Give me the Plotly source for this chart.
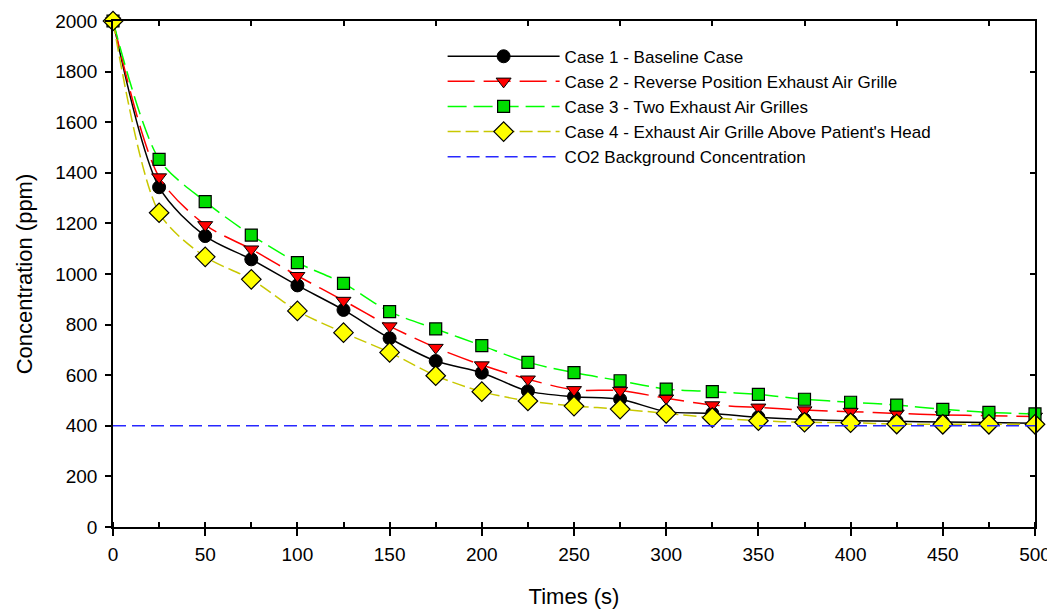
import plotly.graph_objects as go

times = [0, 25, 50, 75, 100, 125, 150, 175, 200, 225, 250, 275, 300, 325, 350, 375, 400, 425, 450, 475, 500]

case1 = [2000, 1343, 1150, 1058, 955, 858, 746, 656, 610, 537, 515, 505, 456, 449, 434, 425, 420, 418, 415, 413, 410]
case2 = [2000, 1383, 1194, 1098, 993, 895, 794, 709, 640, 584, 542, 539, 509, 482, 473, 462, 456, 449, 443, 440, 437]
case3 = [2000, 1453, 1286, 1154, 1045, 963, 851, 783, 717, 651, 610, 578, 545, 535, 524, 505, 493, 482, 465, 453, 447]
case4 = [2000, 1242, 1068, 979, 854, 768, 690, 598, 535, 498, 478, 466, 449, 432, 420, 414, 412, 407, 406, 406, 406]
background = [400] * len(times)

names = [
    "Case 1 - Baseline Case",
    "Case 2 - Reverse Position Exhaust Air Grille",
    "Case 3 - Two Exhaust Air Grilles",
    "Case 4 - Exhaust Air Grille Above Patient's Head",
    "CO2 Background Concentration",
]

FONT = "Liberation Sans, Arial, sans-serif"

fig = go.Figure()

fig.add_trace(go.Scatter(
    x=times, y=case1, name=names[0], mode="lines+markers",
    line=dict(color="black", width=1.5, shape="spline", smoothing=0.8),
    marker=dict(symbol="circle", size=13, color="black", line=dict(color="black", width=1)),
    cliponaxis=False))
fig.add_trace(go.Scatter(
    x=times, y=case2, name=names[1], mode="lines+markers",
    line=dict(color="#ff0000", width=1.5, shape="spline", smoothing=0.8, dash="27px,9px"),
    marker=dict(symbol="triangle-down", size=13, color="#ff0000", line=dict(color="black", width=1)),
    cliponaxis=False))
fig.add_trace(go.Scatter(
    x=times, y=case3, name=names[2], mode="lines+markers",
    line=dict(color="#00ff00", width=1.5, shape="spline", smoothing=0.8, dash="19px,7px"),
    marker=dict(symbol="square", size=12, color="#00dd00", line=dict(color="black", width=1.2)),
    cliponaxis=False))
fig.add_trace(go.Scatter(
    x=times, y=case4, name=names[3], mode="lines+markers",
    line=dict(color="#c8c800", width=1.5, shape="spline", smoothing=0.8, dash="13px,5px"),
    marker=dict(symbol="diamond", size=15, color="#ffff00", line=dict(color="black", width=1.2)),
    cliponaxis=False))
fig.add_trace(go.Scatter(
    x=times, y=background, name=names[4], mode="lines",
    line=dict(color="#2828ff", width=1.5, dash="13px,6px"),
    xaxis="x2", yaxis="y2", cliponaxis=False))

tickfont = dict(family=FONT, size=19, color="black")
titlefont = dict(family=FONT, size=22, color="black")

# page body has an 8px margin, so the figure is sized/margined to compensate
fig.update_layout(
    width=1047, height=602,
    margin=dict(l=105, r=20, t=13, b=83, autoexpand=False),
    paper_bgcolor="white", plot_bgcolor="white",
    font=dict(family=FONT, size=17, color="black"),
    showlegend=True,
    legend=dict(
        x=0.3575, y=0.965, xanchor="left", yanchor="top",
        bgcolor="rgba(0,0,0,0)", borderwidth=0,
        font=dict(family=FONT, size=17, color="black"),
        itemwidth=112, tracegroupgap=0,
    ),
    xaxis=dict(
        range=[0, 500], dtick=50, tick0=0, automargin=False,
        showgrid=False, zeroline=False,
        showline=True, linecolor="black", linewidth=1.5,
        ticks="outside", ticklen=7, tickwidth=1.5, tickcolor="black",
        minor=dict(ticks="inside", dtick=25, tick0=0, ticklen=5, tickwidth=1.5, tickcolor="black", showgrid=False),
        tickfont=tickfont, ticklabelstandoff=2,
        title=dict(text="Times (s)", font=titlefont, standoff=25),
    ),
    yaxis=dict(
        range=[0, 2000], dtick=200, tick0=0, automargin=False,
        showgrid=False, zeroline=False,
        showline=True, linecolor="black", linewidth=1.5,
        ticks="outside", ticklen=6, tickwidth=1.5, tickcolor="black",
        tickfont=tickfont, ticklabelstandoff=4,
        title=dict(text="Concentration (ppm)", font=titlefont, standoff=16),
    ),
    xaxis2=dict(
        overlaying="x", side="top", anchor="y", range=[0, 500], automargin=False,
        tickvals=[25, 75, 125, 175, 225, 275, 325, 375, 425, 475],
        showticklabels=False, showgrid=False, zeroline=False,
        showline=True, linecolor="black", linewidth=1.5,
        ticks="inside", ticklen=5, tickwidth=1.5, tickcolor="black",
    ),
    yaxis2=dict(
        overlaying="y", side="right", anchor="x", range=[0, 2000], automargin=False,
        tickvals=[200, 600, 1000, 1400, 1800],
        showticklabels=False, showgrid=False, zeroline=False,
        showline=True, linecolor="black", linewidth=1.5,
        ticks="inside", ticklen=5, tickwidth=1.5, tickcolor="black",
    ),
    yaxis3=dict(
        overlaying="y", side="left", anchor="x", range=[0, 2000], automargin=False,
        tickvals=[200, 600, 1000, 1400, 1800],
        showticklabels=False, showgrid=False, zeroline=False,
        showline=False,
        ticks="inside", ticklen=5, tickwidth=1.5, tickcolor="black",
    ),
)

fig.write_html("out.html")
